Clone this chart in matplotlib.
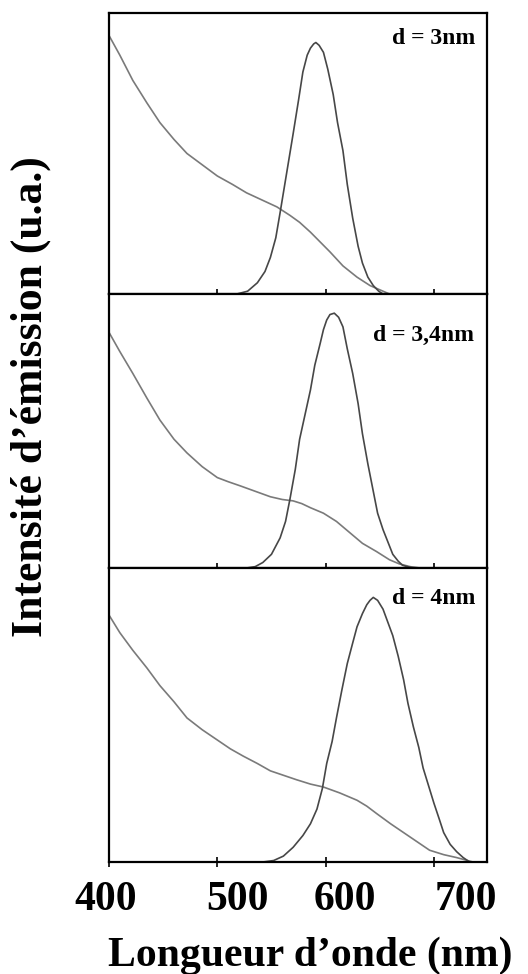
import matplotlib
matplotlib.use("Agg")
import matplotlib.pyplot as plt
import matplotlib.transforms as mtransforms

plt.rcParams['font.family'] = ['Liberation Serif', 'DejaVu Serif']
plt.rcParams['font.weight'] = 'bold'

# spectra (wavelength nm, normalised intensity)
abs_3_x = [400, 410, 422, 435, 447, 460, 472, 486, 500, 514, 527, 541, 555, 567, 576, 586, 595, 604, 616, 629, 641, 653, 659]
abs_3_y = [0.92, 0.85, 0.76, 0.68, 0.61, 0.55, 0.50, 0.46, 0.42, 0.39, 0.36, 0.335, 0.31, 0.28, 0.255, 0.22, 0.185, 0.15, 0.10, 0.06, 0.03, 0.01, 0.0]
em_3_x = [518, 528, 537, 544, 549, 554, 558, 564, 570, 575, 579, 583, 586, 589, 591, 594, 598, 602, 607, 611, 616, 620, 625, 630, 634, 639, 644, 649, 653]
em_3_y = [0.0, 0.01, 0.04, 0.08, 0.13, 0.20, 0.29, 0.43, 0.57, 0.69, 0.79, 0.85, 0.875, 0.89, 0.895, 0.885, 0.86, 0.80, 0.71, 0.61, 0.51, 0.39, 0.27, 0.17, 0.11, 0.06, 0.03, 0.01, 0.0]

abs_34_x = [400, 410, 422, 435, 447, 460, 472, 486, 500, 510, 521, 535, 549, 560, 570, 578, 586, 598, 610, 622, 634, 647, 659, 668, 678, 687]
abs_34_y = [0.86, 0.79, 0.71, 0.62, 0.54, 0.47, 0.42, 0.37, 0.33, 0.315, 0.30, 0.28, 0.26, 0.25, 0.245, 0.235, 0.22, 0.20, 0.17, 0.13, 0.09, 0.06, 0.03, 0.015, 0.005, 0.0]
em_34_x = [527, 535, 542, 550, 558, 563, 567, 572, 576, 581, 586, 590, 595, 598, 601, 604, 608, 612, 616, 620, 625, 630, 634, 639, 644, 648, 653, 658, 662, 667, 671, 680]
em_34_y = [0.0, 0.005, 0.02, 0.05, 0.11, 0.17, 0.25, 0.36, 0.47, 0.56, 0.65, 0.74, 0.82, 0.87, 0.905, 0.925, 0.93, 0.915, 0.88, 0.80, 0.71, 0.60, 0.49, 0.38, 0.28, 0.20, 0.14, 0.09, 0.05, 0.025, 0.01, 0.0]

abs_4_x = [400, 410, 422, 435, 447, 460, 472, 486, 500, 512, 524, 537, 549, 561, 573, 586, 598, 613, 629, 638, 647, 660, 672, 684, 696, 709, 721, 736]
abs_4_y = [0.84, 0.78, 0.72, 0.66, 0.60, 0.545, 0.49, 0.45, 0.415, 0.385, 0.36, 0.335, 0.31, 0.295, 0.28, 0.265, 0.255, 0.235, 0.21, 0.19, 0.165, 0.13, 0.10, 0.07, 0.04, 0.025, 0.015, 0.0]
em_4_x = [542, 552, 561, 570, 579, 586, 592, 597, 601, 606, 610, 615, 620, 625, 629, 634, 638, 641, 644, 648, 653, 657, 662, 667, 672, 676, 681, 686, 690, 695, 700, 705, 709, 715, 721, 727, 733]
em_4_y = [0.0, 0.005, 0.02, 0.05, 0.09, 0.13, 0.18, 0.25, 0.335, 0.41, 0.49, 0.585, 0.675, 0.745, 0.80, 0.845, 0.875, 0.89, 0.90, 0.89, 0.86, 0.82, 0.77, 0.70, 0.62, 0.54, 0.46, 0.39, 0.32, 0.26, 0.20, 0.145, 0.10, 0.06, 0.035, 0.015, 0.0]

panel_labels = ["d = 3nm", "d = 3,4nm", "d = 4nm"]
xticks = [400, 500, 600, 700]
# the printed tick labels sit a little right of their ticks (px)
label_shift = [-3, 20, 19, 32]

W, H = 528, 974
fig = plt.figure(figsize=(W / 100, H / 100), dpi=100)

left = 109 / W
width = (487 - 109) / W
# (top px, bottom px) of each panel
panels = [(13, 294), (294, 568), (568, 862)]
data = [(abs_3_x, abs_3_y, em_3_x, em_3_y),
        (abs_34_x, abs_34_y, em_34_x, em_34_y),
        (abs_4_x, abs_4_y, em_4_x, em_4_y)]
label_pos = [(0.968, 0.947), (0.965, 0.887), (0.968, 0.932)]

for i, ((top, bot), (ax_, ay_, ex_, ey_)) in enumerate(zip(panels, data)):
    ax = fig.add_axes([left, 1 - bot / H, width, (bot - top) / H])
    ax.plot(ax_, ay_, color='#7a7a7a', lw=1.2)
    ax.plot(ex_, ey_, color='#474747', lw=1.2)
    ax.set_xlim(400, 749)
    ax.set_ylim(0, 1)
    ax.set_yticks([])
    ax.set_xticks(xticks)
    ax.tick_params(axis='x', direction='inout', length=7, width=1.2)
    for s in ax.spines.values():
        s.set_linewidth(1.6)
    ax.text(label_pos[i][0], label_pos[i][1], panel_labels[i], transform=ax.transAxes,
            ha='right', va='top', fontsize=17, fontweight='bold')
    if i < 2:
        ax.set_xticklabels([])
    else:
        ax.set_xticklabels([str(t) for t in xticks], fontsize=30, fontweight='bold')
        ax.tick_params(axis='x', pad=10)
        for lab, dx in zip(ax.get_xticklabels(), label_shift):
            lab.set_transform(lab.get_transform() +
                              mtransforms.ScaledTranslation(dx / 100, 0, fig.dpi_scale_trans))

fig.text(310 / W, 1 - 956 / H, "Longueur d\u2019onde (nm)", ha='center', va='center',
         fontsize=30, fontweight='bold')
fig.text(31 / W, 1 - 397 / H, "Intensit\u00e9 d\u2019\u00e9mission (u.a.)", ha='center', va='center',
         rotation=90, fontsize=31.5, fontweight='bold')

fig.savefig("out.png", dpi=100)
